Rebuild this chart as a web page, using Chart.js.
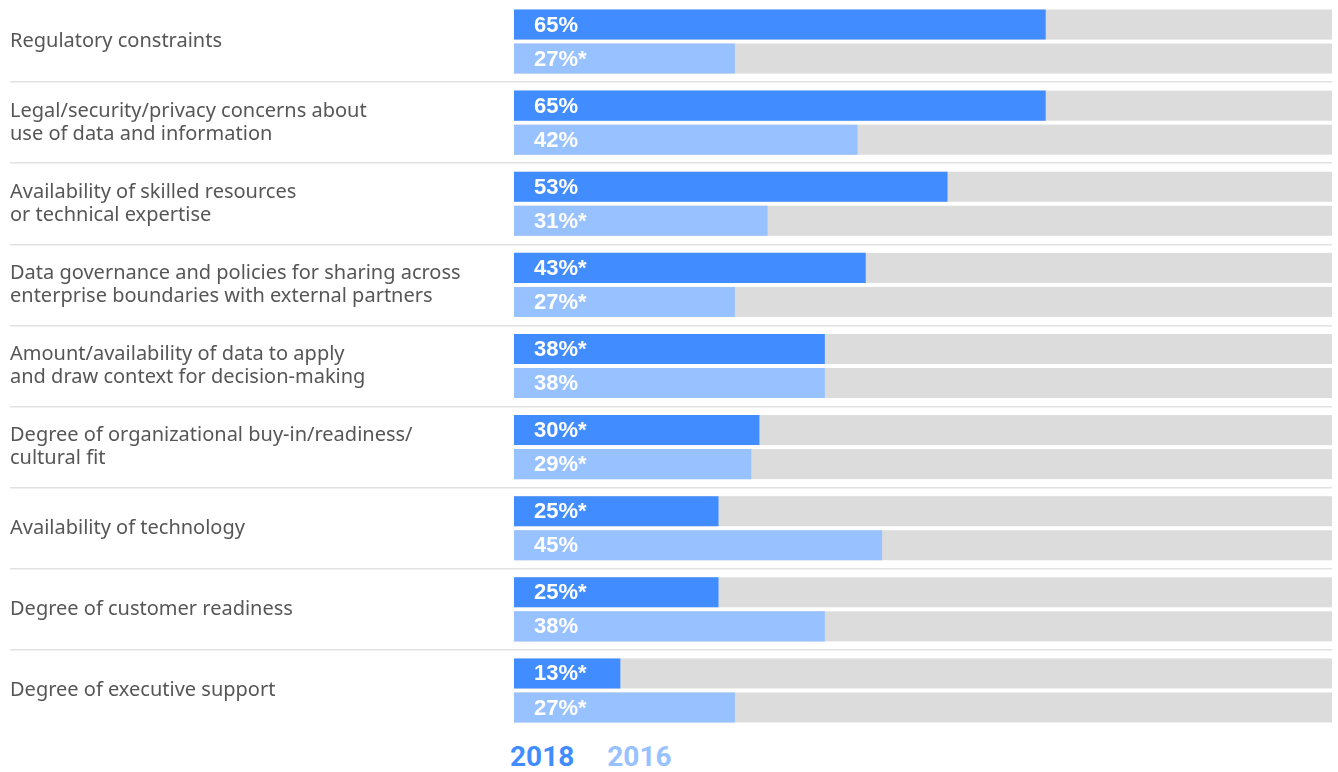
<!DOCTYPE html>
<html>
<head>
<meta charset="utf-8">
<script src="https://cdn.jsdelivr.net/npm/chart.js@4"></script>
<style>
  body { margin: 0; background: #fff; }
  #wrap { position: relative; width: 1338px; height: 731px; }
  #legend {
    position: absolute; top: 740px; left: 510px;
    display: flex; gap: 33px;
    font-family: Roboto, sans-serif; font-weight: bold; font-size: 28px;
  }
</style>
</head>
<body>
<div id="wrap"><canvas id="obstacles"></canvas></div>
<div id="legend"></div>
<script>
const categories = [
  ["Regulatory constraints"],
  ["Legal/security/privacy concerns about", "use of data and information"],
  ["Availability of skilled resources", "or technical expertise"],
  ["Data governance and policies for sharing across", "enterprise boundaries with external partners"],
  ["Amount/availability of data to apply", "and draw context for decision-making"],
  ["Degree of organizational buy-in/readiness/", "cultural fit"],
  ["Availability of technology"],
  ["Degree of customer readiness"],
  ["Degree of executive support"]
];
const years = ["2018", "2016"];
const values2018 = [65, 65, 53, 43, 38, 30, 25, 25, 13];
const values2016 = [27, 42, 31, 27, 38, 29, 45, 38, 27];
// asterisk marks a statistically significant difference
const star2018 = [false, false, false, true, true, true, true, true, true];
const star2016 = [true, false, true, true, false, true, false, false, true];

const BLUE = "#418cff";
const LIGHT = "#98c1ff";
const TRACK = "#dcdcdc";

// grey full-length track behind every bar
const trackPlugin = {
  id: "track",
  beforeDatasetsDraw(chart) {
    const c = chart.ctx;
    const x = chart.scales.x;
    c.save();
    c.fillStyle = TRACK;
    chart.data.datasets.forEach((ds, i) => {
      chart.getDatasetMeta(i).data.forEach(bar => {
        const x0 = x.getPixelForValue(0);
        c.fillRect(x0, bar.y - bar.height / 2, x.getPixelForValue(100) - x0, bar.height);
      });
    });
    c.restore();
  }
};

// percentage text inside the bars
const valuePlugin = {
  id: "values",
  afterDatasetsDraw(chart) {
    const c = chart.ctx;
    const stars = [star2018, star2016];
    c.save();
    c.fillStyle = "#fff";
    c.font = "bold 22px 'Liberation Sans', Arial, sans-serif";
    c.textBaseline = "middle";
    chart.data.datasets.forEach((ds, i) => {
      chart.getDatasetMeta(i).data.forEach((bar, j) => {
        const txt = ds.data[j] + "%" + (stars[i][j] ? "*" : "");
        c.fillText(txt, bar.base + 20, bar.y + 1);
      });
    });
    c.restore();
  }
};

const chart = new Chart(document.getElementById("obstacles"), {
  type: "bar",
  data: {
    labels: categories,
    datasets: [
      { label: years[0], data: values2018, backgroundColor: BLUE },
      { label: years[1], data: values2016, backgroundColor: LIGHT }
    ]
  },
  options: {
    indexAxis: "y",
    responsive: true,
    maintainAspectRatio: false,
    animation: false,
    layout: { padding: { left: 10, right: 6, top: 1, bottom: 0 } },
    datasets: { bar: { categoryPercentage: 68 / 81, barPercentage: 30 / 34 } },
    scales: {
      x: { display: false, min: 0, max: 100 },
      y: {
        afterFit: s => {
          s.width = 504;
          s.paddingTop = 0;
          s.paddingBottom = 0;
        },
        border: { display: false },
        grid: {
          offset: true,
          lineWidth: 1.5,
          tickLength: 504,
          color: c => (c.index > 0 && c.index < categories.length ? "#e2e2e2" : "transparent")
        },
        ticks: {
          autoSkip: false,
          crossAlign: "far",
          color: "#565656",
          font: { family: "'Noto Sans', sans-serif", size: 20, lineHeight: 1.15 }
        }
      }
    },
    plugins: { legend: { display: false }, tooltip: { enabled: false } }
  },
  plugins: [trackPlugin, valuePlugin]
});

document.getElementById("legend").innerHTML = chart.data.datasets
  .map(ds => `<span style="color:${ds.backgroundColor}">${ds.label}</span>`)
  .join("");
</script>
</body>
</html>
